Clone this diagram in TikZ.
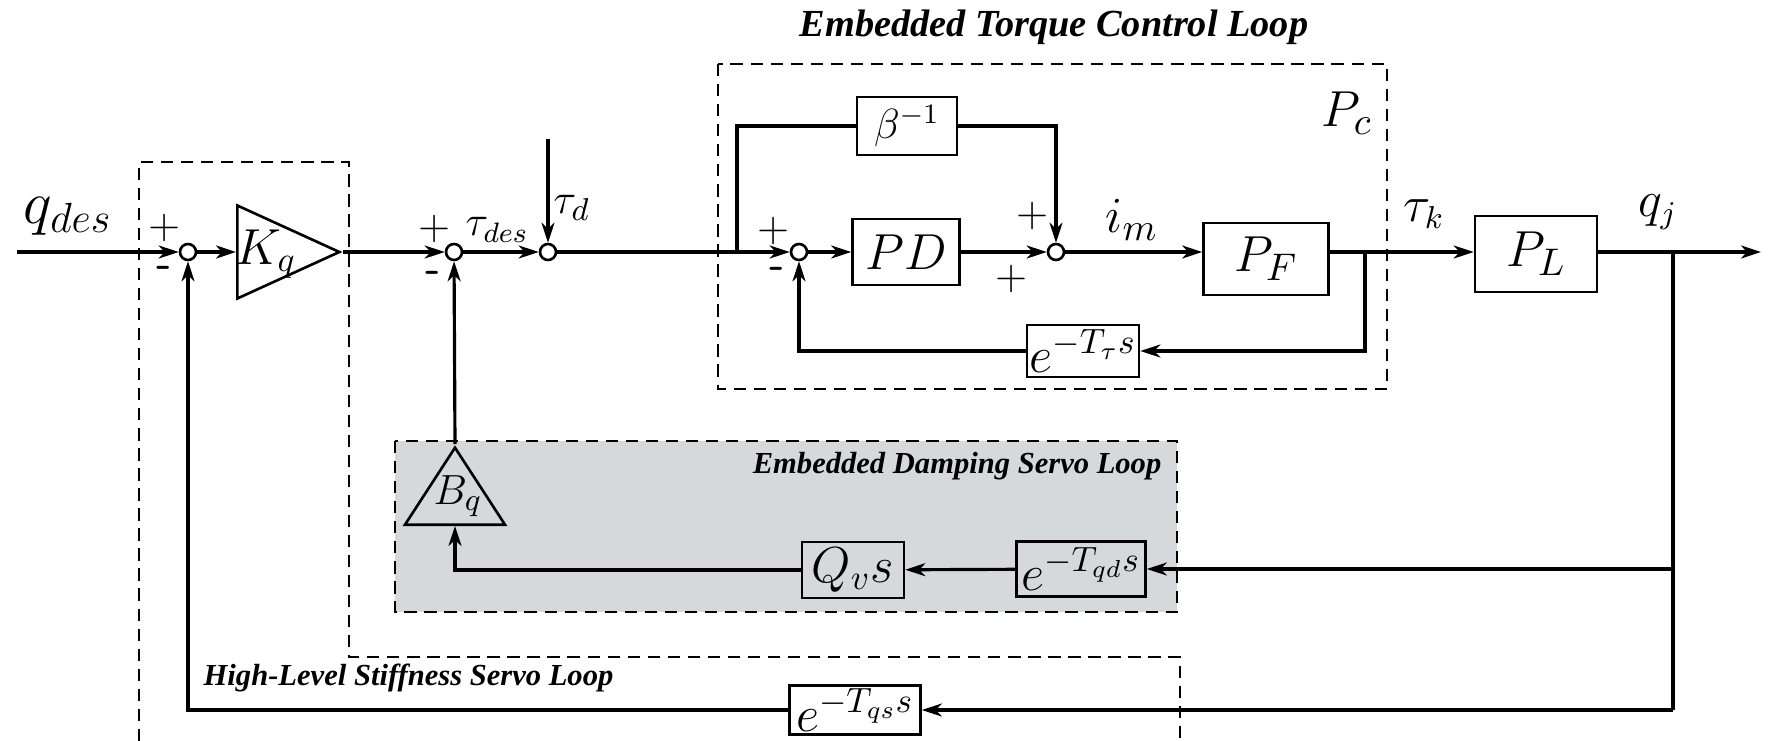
\documentclass[tikz,border=0pt]{standalone}
\usepackage{amsmath,amssymb}
\usepackage{fontspec}
\usepackage{xcolor}
\usepackage{tikz}
\usetikzlibrary{arrows.meta,positioning,calc,shapes.geometric}
\newfontfamily\scloopfont{Liberation Serif}
\definecolor{scgrey}{HTML}{D6D9DB}
\tikzset{
  scline/.style={line width=0.9pt, draw=black},
  scarrow/.style={-{Stealth[length=2mm,width=1.3mm,inset=0.6mm]}, line width=0.9pt, draw=black},
  scblock/.style={draw, line width=0.75pt, inner sep=0pt, font=\fontsize{14.4}{17}\selectfont},
  scgain/.style={draw, line width=0.75pt, isosceles triangle, isosceles triangle stretches,
    inner sep=0pt},
  scsum/.style={draw, circle, line width=0.75pt, minimum size=1.6mm, inner sep=0pt},
  scsign/.style={font=\sffamily\large, inner sep=0pt},
  scminus/.style={font=\sffamily\bfseries\large, inner sep=0pt},
  scmath/.style={inner sep=0pt, font=\fontsize{14.4}{17}\selectfont},
  scloop/.style={dashed, dash pattern=on 3.5pt off 2.2pt, line width=0.6pt},
  scloopname/.style={inner sep=0pt, font=\scloopfont\bfseries\itshape\fontsize{8.7}{10}\selectfont}
}
\begin{document}
\begin{tikzpicture}[x=0.1mm, y=-0.1mm]
  \useasboundingbox (0,0) rectangle (1776,741);
  % loop frames
  \fill[scgrey] (395,441) rectangle (1177,612);
  \draw[scloop] (395,441) rectangle (1177,612);
  \draw[scloop] (718,64) rectangle (1387,389);
  \draw[scloop] (139,741) -- (139,162) -- (349,162) -- (349,657) -- (1180,657) -- (1180,741);
  \node[scloopname, font=\scloopfont\bfseries\itshape\fontsize{10.9}{13}\selectfont] (ttl) at (1054,27) {Embedded Torque Control Loop};
  \node[scloopname, anchor=east] (dmp) at (1162,466) {Embedded Damping Servo Loop};
  \node[scloopname, anchor=west] (stf) at (203,678) {High-Level Stiffness Servo Loop};
  % forward path
  \coordinate (in) at (17,252);
  \node[scsum] (s1) at (188,252) {};
  \node[scgain, minimum width=9.3mm, minimum height=10.2mm, anchor=lower side] (kq) at (236,252) {};
  \node[scsum] (s2) at (454,252) {};
  \node[scsum] (s3) at (548,252) {};
  \coordinate (td) at (548,139);
  \coordinate (br1) at (737,252);
  \node[scsum] (s4) at (799,252) {};
  \node[scblock, minimum width=10mm, minimum height=5.8mm, font=\fontsize{12}{14}\selectfont] (beta) at (907,126) {$\beta^{-1}$};
  \node[scblock, minimum width=10.7mm, minimum height=6.6mm, font=\fontsize{15}{18}\selectfont] (pd) at (906,252) {$PD$};
  \node[scsum] (s5) at (1056,252) {};
  \node[scblock, minimum width=12.5mm, minimum height=7.2mm, font=\fontsize{15}{18}\selectfont] (pf) at (1266,259) {$P_F$};
  \coordinate (br2) at (1365,252);
  \node[scblock, minimum width=11.2mm, minimum height=5.2mm] (ett) at (1083,351) {$e^{-T_\tau s}$};
  \node[scblock, minimum width=12.2mm, minimum height=7.6mm, font=\fontsize{15}{18}\selectfont] (pl) at (1536,254) {$P_L$};
  \coordinate (br3) at (1673,252);
  \coordinate (out) at (1761,252);
  % feedback paths
  \node[scblock, minimum width=12.9mm, minimum height=5.5mm] (eqd) at (1081,569) {$e^{-T_{qd}s}$};
  \node[scblock, minimum width=10.2mm, minimum height=5.6mm] (qvs) at (853,570) {$Q_v s$};
  \node[scgain, shape border rotate=90, minimum width=10mm, minimum height=7.7mm, anchor=lower side] (bq) at (455,526) {};
  \node[scblock, minimum width=13.1mm, minimum height=4.9mm] (eqs) at (855,710) {$e^{-T_{qs}s}$};
  \coordinate (br4) at (1673,569);
  \coordinate (br5) at (1673,710);
  % connectors
  \draw[scarrow] (in) -- (s1);
  \draw[scarrow] (s1) -- (kq.lower side);
  \draw[scarrow] (kq.apex) -- (s2);
  \draw[scarrow] (s2) -- (s3);
  \draw[scarrow] (td) -- (s3);
  \draw[scarrow] (s3) -- (s4);
  \draw[scline] (br1) |- (beta);
  \draw[scarrow] (beta) -| (s5);
  \draw[scarrow] (s4) -- (pd);
  \draw[scarrow] (pd) -- (s5);
  \draw[scarrow] (s5) -- (s5 -| pf.west);
  \draw[scarrow] (s5 -| pf.east) -- (s5 -| pl.west);
  \draw[scarrow] (br2) |- (ett);
  \draw[scarrow] (ett) -| (s4);
  \draw[scarrow] (s5 -| pl.east) -- (out);
  \draw[scline] (br3) -- (br5);
  \draw[scarrow] (br4) -- (eqd);
  \draw[scarrow] (eqd) -- (qvs);
  \draw[scarrow] (qvs) -| (bq.lower side);
  \draw[scarrow] (bq.apex) -- (s2);
  \draw[scarrow] (br5) -- (eqs);
  \draw[scarrow] (eqs) -| (s1);
  % signals and signs
  \node[scmath] (kqlab) at (266,254) {$K_q$};
  \node[scmath, font=\fontsize{13}{16}\selectfont] (bqlab) at (458,496) {$B_q$};
  \node[scmath, font=\fontsize{16.5}{19}\selectfont] (qdes) at (68,216) {$q_{des}$};
  \node[scmath, font=\fontsize{12}{14}\selectfont] (taudes) at (497,230) {$\tau_{des}$};
  \node[scmath, font=\fontsize{13}{16}\selectfont, anchor=west] (taud) at (553,208) {$\tau_d$};
  \node[scmath, font=\fontsize{15}{18}\selectfont] (im) at (1132,220) {$i_m$};
  \node[scmath, font=\fontsize{15}{18}\selectfont] (pc) at (1347,113) {$P_c$};
  \node[scmath, font=\fontsize{13.5}{16}\selectfont] (tauk) at (1424,214) {$\tau_k$};
  \node[scmath, font=\fontsize{13.5}{16}\selectfont] (qj) at (1658,212) {$q_j$};
  \node[scsign] (s1p) at (165,228) {+};
  \node[scminus] (s1m) at (164,272) {-};
  \node[scsign] (s2p) at (435,229) {+};
  \node[scminus] (s2m) at (433,277) {-};
  \node[scsign] (s4p) at (774,231) {+};
  \node[scminus] (s4m) at (777,273) {-};
  \node[scsign] (s5p) at (1033,216) {+};
  \node[scsign] (s5q) at (1012,279) {+};
\end{tikzpicture}
\end{document}
